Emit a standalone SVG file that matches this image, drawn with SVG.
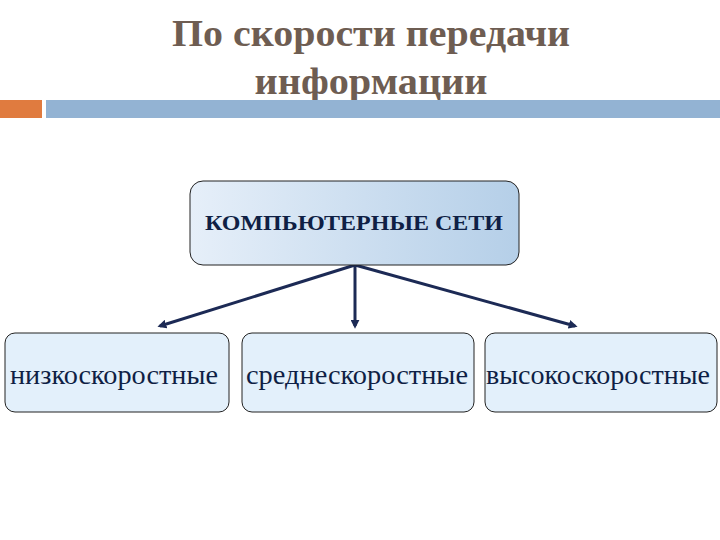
<svg xmlns="http://www.w3.org/2000/svg" width="720" height="540" viewBox="0 0 720 540">
<style>
.t{font-family:"Liberation Serif",serif;font-weight:bold;font-size:38px;fill:#6e5d52;text-anchor:middle}
.b{fill:#e3f0fb;stroke:#222;stroke-width:1}
.l{font-family:"Liberation Serif",serif;font-size:28px;fill:#0f1f45;text-anchor:middle}
.c{stroke:#1c2a55;stroke-width:3;fill:none;marker-end:url(#a)}
</style>
<defs>
<linearGradient id="g" x1="0" x2="1"><stop offset="0" stop-color="#e6eff9"/><stop offset="1" stop-color="#b5cfe8"/></linearGradient>
<marker id="a" viewBox="0 0 10 10" refX="7" refY="5" markerWidth="3" markerHeight="3" orient="auto"><path d="M0,0L10,5L0,10z" fill="#1c2a55"/></marker>
</defs>
<text class="t" x="371" y="46" textLength="398" lengthAdjust="spacingAndGlyphs">По скорости передачи</text>
<text class="t" x="371" y="94" textLength="233" lengthAdjust="spacingAndGlyphs">информации</text>
<rect x="0" y="100" width="42" height="18" fill="#e07b3f"/>
<rect x="46" y="100" width="674" height="18" fill="#93b3d3"/>
<g id="connectors">
<line class="c" x1="355" y1="265" x2="160" y2="326"/>
<line class="c" x1="355" y1="265" x2="355" y2="326"/>
<line class="c" x1="355" y1="265" x2="575" y2="326"/>
</g>
<g id="root"><rect x="190" y="181" width="329" height="84" rx="13" fill="url(#g)" stroke="#222"/>
<text x="354" y="230" font-family="Liberation Serif,serif" font-weight="bold" font-size="21" fill="#0f1f45" text-anchor="middle" textLength="298" lengthAdjust="spacingAndGlyphs">КОМПЬЮТЕРНЫЕ СЕТИ</text></g>
<g id="low"><rect class="b" x="5" y="333" width="224" height="79" rx="10"/><text class="l" x="114" y="384" textLength="208" lengthAdjust="spacingAndGlyphs">низкоскоростные</text></g>
<g id="mid"><rect class="b" x="242" y="333" width="232" height="79" rx="10"/><text class="l" x="357" y="384" textLength="222" lengthAdjust="spacingAndGlyphs">среднескоростные</text></g>
<g id="high"><rect class="b" x="485" y="333" width="232" height="79" rx="10"/><text class="l" x="598" y="384" textLength="224" lengthAdjust="spacingAndGlyphs">высокоскоростные</text></g>
</svg>
